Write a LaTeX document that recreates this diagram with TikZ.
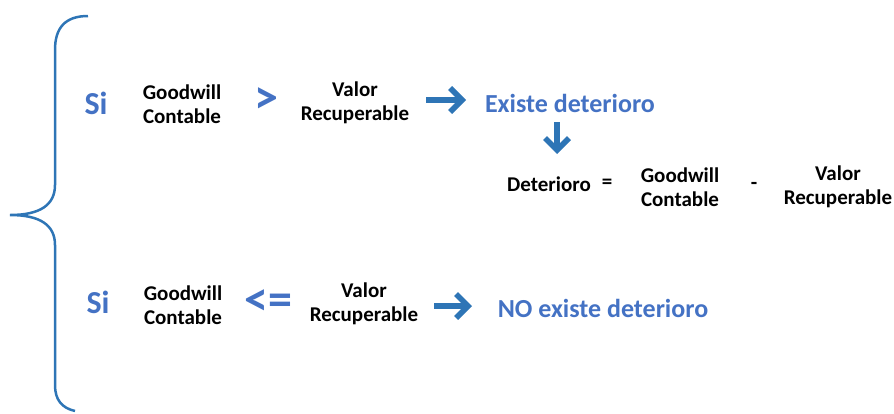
\documentclass[tikz,border=0pt]{standalone}
\usepackage{fontspec}
\setmainfont{Carlito}
\usetikzlibrary{arrows.meta}
\definecolor{txtblue}{HTML}{4472C4}
\definecolor{arrblue}{HTML}{2E75B6}
\begin{document}
\begin{tikzpicture}[x=1pt,y=-1pt,
  lbl/.style={font=\bfseries\fontsize{21}{24.5}\selectfont,align=center,inner sep=0pt,text=black},
  si/.style={font=\bfseries\fontsize{32}{34}\selectfont,inner sep=0pt,text=txtblue},
  op/.style={font=\bfseries\fontsize{48}{48}\selectfont,inner sep=0pt,text=txtblue},
  res/.style={font=\bfseries\fontsize{26}{30}\selectfont,inner sep=0pt,text=txtblue},
  bigarrow/.style={draw=arrblue,line width=5.5pt,-{Straight Barb[length=12pt,width=24pt]}},
  bracestyle/.style={draw=arrblue,line width=2.5pt}]
\useasboundingbox (0,0) rectangle (894,413);
% brace
\draw[bracestyle] (88,16) .. controls (65,16) and (55,28) .. (55,50)
  -- (55,185) .. controls (55,205) and (40,215) .. (10,215)
  (10,215) .. controls (40,215) and (55,225) .. (55,245)
  -- (55,385) .. controls (55,400) and (62,408) .. (75,411);
% top row
\node[si] (si1) at (96,103) {Si};
\node[lbl] (gc1) at (182,104) {Goodwill\\Contable};
\node[op] (gt) at (266,101) {>};
\node[lbl] (vr1) at (355,103) {Valor\\Recuperable};
\node[res] (ex) at (570,103) {Existe deterioro};
\coordinate (a1s) at (426,100);
\coordinate (a1e) at (466,100);
\draw[bigarrow] (a1s) -- (a1e);
\coordinate (a2s) at (557,122);
\coordinate (a2e) at (557,154);
\draw[bigarrow] (a2s) -- (a2e);
% formula
\node[lbl] (det) at (549,184) {Deterioro};
\node[lbl] (eq) at (607,184) {=};
\node[lbl] (gc2) at (680,187) {Goodwill\\Contable};
\node[lbl] (minus) at (754,186) {-};
\node[lbl] (vr2) at (838,187) {Valor\\Recuperable};
% bottom row
\node[si] (si2) at (98,302) {Si};
\node[lbl] (gc3) at (183,305) {Goodwill\\Contable};
\node[op] (le) at (268,303) {<=};
\node[lbl] (vr3) at (364,304) {Valor\\Recuperable};
\coordinate (a3s) at (434,306);
\coordinate (a3e) at (472,306);
\draw[bigarrow] (a3s) -- (a3e);
\node[res] (noex) at (603,308) {NO existe deterioro};
\end{tikzpicture}
\end{document}
